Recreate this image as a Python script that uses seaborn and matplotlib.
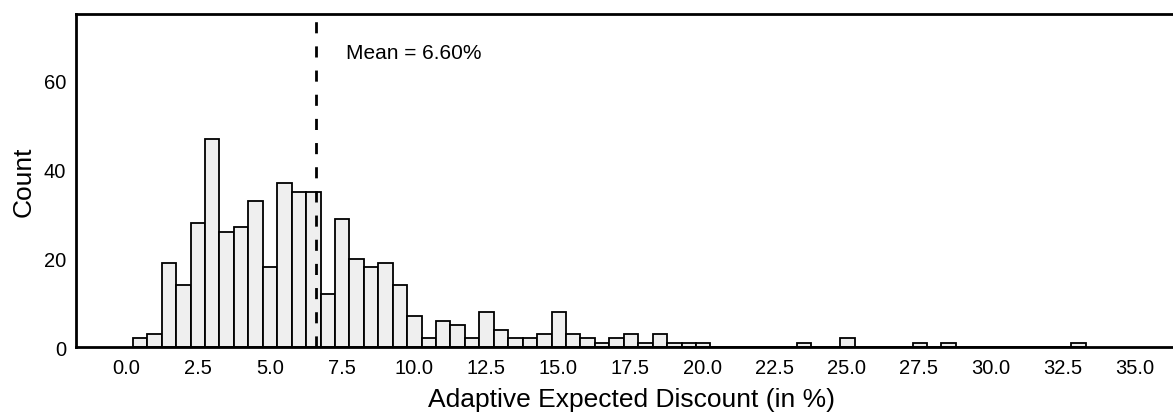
import numpy as np
import pandas as pd
import seaborn as sns
import matplotlib.pyplot as plt

# counts per histogram bin (66 bins of ~0.5 pp)
bin_counts = [2, 3, 19, 14, 28, 47, 26, 27, 33, 18,
              37, 35, 35, 12, 29, 20, 18, 19, 14, 7,
              2, 6, 5, 2, 8, 4, 2, 2, 3, 8,
              3, 2, 1, 2, 3, 1, 3, 1, 1, 1,
              0, 0, 0, 0, 0, 0, 1, 0, 0, 2,
              0, 0, 0, 0, 1, 0, 1, 0, 0, 0,
              0, 0, 0, 0, 0, 1]
bin_start = 0.24
bin_width = 0.501
mean_discount = 6.60

x_ticks = np.arange(0, 35.1, 2.5)
y_ticks = [0, 20, 40, 60]

sns.set_style("white")
plt.rcParams['font.family'] = ['Liberation Sans', 'DejaVu Sans']
plt.rcParams['text.color'] = 'black'
plt.rcParams['axes.labelcolor'] = 'black'

fig = plt.figure(figsize=(11.73, 4.14), dpi=100)
# axes run a little past the right edge of the figure, as in the original
ax = fig.add_axes([76 / 1173, 1 - 348.3 / 414, (1186 - 76) / 1173, (348.3 - 15) / 414])

centers = bin_start + bin_width * (np.arange(len(bin_counts)) + 0.5)
df = pd.DataFrame({'discount': centers, 'count': bin_counts})
bin_end = bin_start + bin_width * len(bin_counts)

sns.histplot(data=df, x='discount', weights='count', bins=len(bin_counts),
             binrange=(bin_start, bin_end), color='#efefef', edgecolor='black',
             linewidth=1.3, alpha=1, ax=ax)

ax.axvline(mean_discount, color='black', lw=2, linestyle=(0, (4, 4.7)))
ax.text(mean_discount + 1.05, 66.5, f'Mean = {mean_discount:.2f}%',
        fontsize=15, va='center')

ax.set_xlim(-1.73, 36.78)
ax.set_ylim(0, 75.07)
ax.set_xticks(x_ticks)
ax.set_xticklabels([f'{t:.1f}' for t in x_ticks])
ax.set_yticks(y_ticks)

for side in ['top', 'left', 'bottom']:
    ax.spines[side].set_color('black')
    ax.spines[side].set_linewidth(2)
ax.spines['right'].set_visible(False)

ax.tick_params(axis='x', length=0, pad=8, labelsize=14.5, colors='black')
ax.tick_params(axis='y', length=0, pad=7, labelsize=14.5, colors='black')
ax.set_xlabel('Adaptive Expected Discount (in %)', fontsize=19, labelpad=7)
ax.set_ylabel('Count', fontsize=19, labelpad=6)

fig.savefig('out.png', dpi=100)
